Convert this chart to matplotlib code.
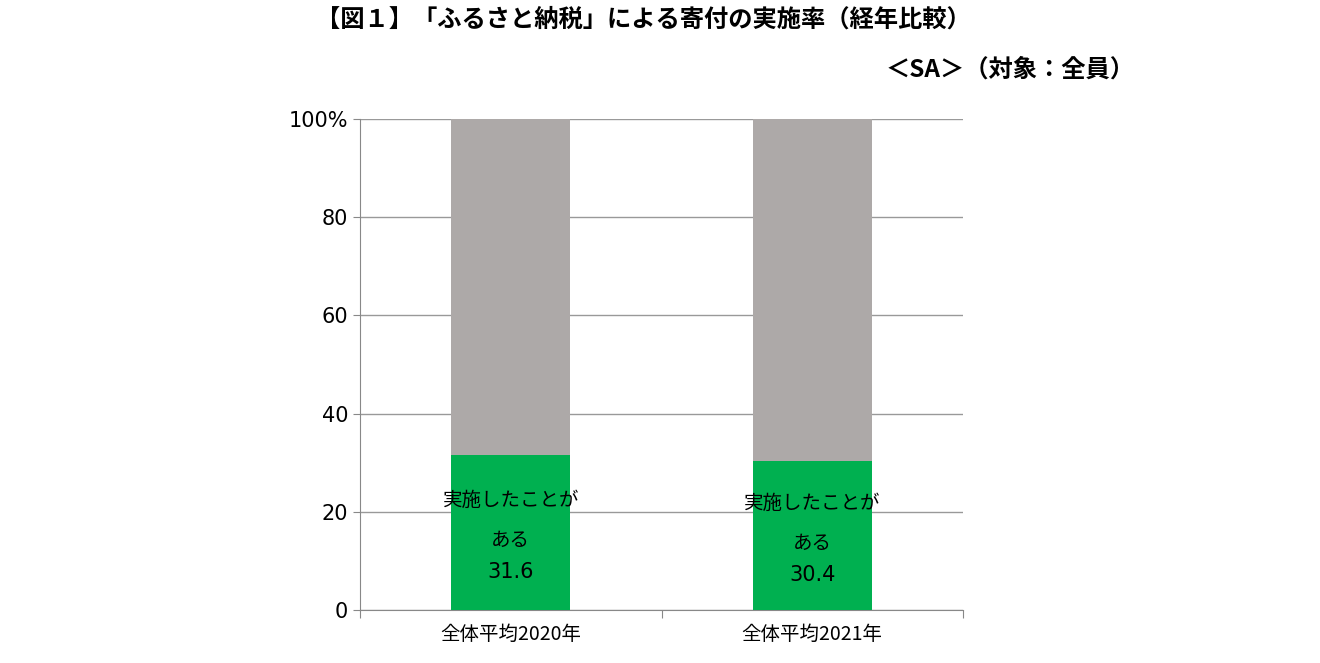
import matplotlib
matplotlib.use("Agg")
import matplotlib.pyplot as plt

plt.rcParams['font.family'] = ['Noto Sans CJK JP', 'DejaVu Sans']
NUM = ['DejaVu Sans']

categories = ["全体平均2020年", "全体平均2021年"]
done = [31.6, 30.4]
total = [100, 100]
label_text = "実施したことが\nある"

fig = plt.figure(figsize=(13.2, 6.63), dpi=100)
ax = fig.add_axes([360/1320, 1-610/663, 603/1320, 491/663])
x = [0.5, 1.5]
rest = [t - d for t, d in zip(total, done)]
ax.bar(x, done, width=0.395, color='#00B050', zorder=3)
ax.bar(x, rest, bottom=done, width=0.395, color='#ADA9A8', zorder=3)
for xi, d in zip(x, done):
    ax.text(xi, d/2 + 2.5, label_text, ha='center', va='center',
            fontsize=14, linespacing=2.2, zorder=4)
    ax.text(xi, d/2 - 8, f"{d:.1f}", ha='center', va='center',
            fontsize=15, family=NUM, zorder=4)

ax.set_xlim(0, 2)
ax.set_ylim(0, 100)
ax.set_yticks([0, 20, 40, 60, 80, 100])
ax.set_yticklabels(['0', '20', '40', '60', '80', '100%'], fontsize=15, family=NUM)
ax.set_xticks([0, 1, 2])
ax.set_xticklabels([])
ax.set_xticks(x, minor=True)
ax.set_xticklabels(categories, minor=True, fontsize=14)
ax.tick_params(axis='x', which='minor', length=0, pad=10)
ax.tick_params(axis='x', which='major', length=6, color='#888888')
ax.tick_params(axis='y', length=5, color='#888888')
ax.grid(axis='y', color='#999999', linewidth=1, zorder=0)
for s in ['top', 'right']:
    ax.spines[s].set_visible(False)
for s in ['left', 'bottom']:
    ax.spines[s].set_color('#888888')

fig.text(643/1320, 1-20/663, "【図１】「ふるさと納税」による寄付の実施率（経年比較）",
         ha='center', va='center', fontsize=17.5, fontweight='bold')
fig.text(1135/1320, 1-70/663, "＜SA＞（対象：全員）",
         ha='right', va='center', fontsize=17.5, fontweight='bold')
fig.savefig("out.png", dpi=100)
